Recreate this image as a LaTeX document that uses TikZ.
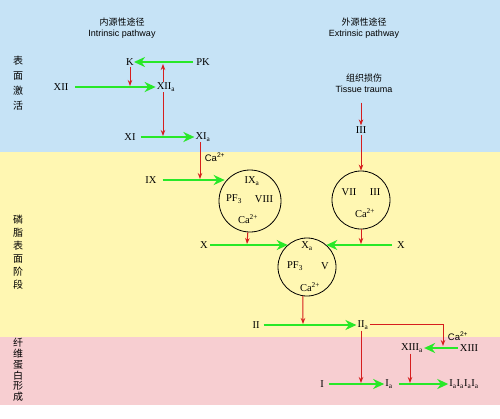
\documentclass[tikz,border=0pt]{standalone}
\usepackage{fontspec}
\setmainfont{Liberation Serif}
\setsansfont{Liberation Sans}
\newfontfamily\cjk{Noto Sans CJK SC}
\usetikzlibrary{arrows.meta}
\definecolor{bgblue}{RGB}{198,227,246}
\definecolor{bgyellow}{RGB}{255,247,178}
\definecolor{bgpink}{RGB}{247,206,209}
\definecolor{agreen}{RGB}{40,232,40}
\definecolor{ared}{RGB}{214,30,30}
\newcommand{\sa}{\textsubscript{a}}
\newcommand{\caion}{Ca\textsuperscript{2+}}
\begin{document}
\begin{tikzpicture}[x=1pt,y=-1pt,
 lab/.style={font=\fontsize{10.5}{12}\selectfont, inner sep=1pt},
 ga/.style={agreen, line width=2.5pt, -{Stealth[length=11pt,width=10pt,inset=3.5pt]}},
 ra/.style={ared, line width=1pt, -{Stealth[length=6pt,width=4.5pt]}},
 circ/.style={circle, draw, line width=0.8pt, inner sep=0pt},
 head/.style={font=\fontsize{9}{11}\selectfont\sffamily, align=center, inner sep=1pt},
 side/.style={font=\cjk\fontsize{10}{15}\selectfont, align=center, inner sep=0pt},
 ion/.style={font=\fontsize{9.5}{11}\selectfont\sffamily, inner sep=1pt},
 ]
\fill[white] (0,0) rectangle (500,418);
\fill[bgblue] (0,0) rectangle (500,152);
\fill[bgyellow] (0,152) rectangle (500,337);
\fill[bgpink] (0,337) rectangle (500,405);
\useasboundingbox (0,0) rectangle (500,418);

% headers
\node[head] (h1) at (122,28) {{\cjk 内源性途径}\\Intrinsic pathway};
\node[head] (h2) at (364,28) {{\cjk 外源性途径}\\Extrinsic pathway};
\node[head] (TT) at (364,83) {{\cjk 组织损伤}\\Tissue trauma};

% side labels
\node[side] (s1) at (18,83) {表\\面\\激\\活};
\node[side, font=\cjk\fontsize{10}{13}\selectfont] (s2) at (18,252) {磷\\脂\\表\\面\\阶\\段};
\node[side, font=\cjk\fontsize{10}{10.8}\selectfont] (s3) at (18,370) {纤\\维\\蛋\\白\\形\\成};

% surface activation
\node[lab] (K) at (130,62) {K};
\node[lab] (PK) at (203,62) {PK};
\node[lab] (XII) at (61,87) {XII};
\node[lab] (XIIa) at (166,87) {XII\sa};
\node[lab] (XI) at (130,137) {XI};
\node[lab] (XIa) at (203,137) {XI\sa};
\node[ion] (ca1) at (215,157) {\caion};
\node[lab] (III) at (361,130) {III};

% phospholipid stage
\node[lab] (IX) at (151,180) {IX};
\node[circ, minimum size=62pt] (C1) at (250,201) {};
\node[lab] (IXa) at (252,181) {IX\sa};
\node[lab] (PF1) at (234,199) {PF\textsubscript{3}};
\node[lab] (VIII) at (264,199) {VIII};
\node[lab] (ca2) at (248,219) {\caion};

\node[circ, minimum size=58pt] (C2) at (361,200) {};
\node[lab] (VII) at (349,192) {VII};
\node[lab] (III2) at (375,192) {III};
\node[lab] (ca3) at (365,213) {\caion};

\node[lab] (Xl) at (204,245) {X};
\node[lab] (Xr) at (401,245) {X};
\node[circ, minimum size=58pt] (C3) at (307,267) {};
\node[lab] (Xa) at (307,246) {X\sa};
\node[lab] (PF2) at (295,266) {PF\textsubscript{3}};
\node[lab] (V) at (325,266) {V};
\node[lab] (ca4) at (310,287) {\caion};

\node[lab] (II) at (256,325) {II};
\node[lab] (IIa) at (363,325) {II\sa};

% fibrin formation
\node[ion] (ca5) at (458,336) {\caion};
\node[lab] (XIIIa) at (412,348) {XIII\sa};
\node[lab] (XIII) at (469,348) {XIII};
\node[lab] (I) at (322,384) {I};
\node[lab] (Ia) at (389,384) {I\sa};
\node[lab] (Ifin) at (464,384) {I\sa I\sa I\sa I\sa};

% coordinates on lines
\coordinate (r1) at (130,86);
\coordinate (r2) at (163,64);
\coordinate (r3) at (163,136);
\coordinate (r4) at (200,179);
\coordinate (r5) at (361,244);
\coordinate (r6) at (247,244);
\coordinate (r7) at (303,324);
\coordinate (r8) at (443,346);
\coordinate (r9) at (361,383);
\coordinate (r10) at (410,383);

% green arrows
\draw[ga] ([xshift=-2pt]PK.west) -- ([xshift=-1pt]K.east);
\draw[ga] ([xshift=6pt]XII.east) -- (XIIa.west);
\draw[ga] ([xshift=4pt]XI.east) -- (XIa.west);
\draw[ga] ([xshift=5pt]IX.east) -- ([xshift=-2pt]IX.east -| C1.138);
\draw[ga] ([xshift=1pt]Xl.east) -- (Xl.east -| C3.131);
\draw[ga] ([xshift=-4pt]Xr.west) -- (Xr.west -| C3.49);
\draw[ga] ([xshift=3pt]II.east) -- (IIa.west);
\draw[ga] ([xshift=-1pt]XIII.west) -- (XIII.west -| XIIIa.east);
\draw[ga] ([xshift=4pt]I.east) -- (Ia.west);
\draw[ga] ([xshift=5pt]Ia.east) -- (Ia.east -| Ifin.west);

% red arrows
\draw[ra] (K.south) -- (r1);
\draw[ra] (r2 |- XIIa.north) -- (r2);
\draw[ra] (r3 |- XIIa.south) -- (r3);
\draw[ra] (r4 |- XIa.south) -- (r4);
\draw[ra] ([yshift=-9pt]III |- TT.south) -- (III.north);
\draw[ra] (III.south) -- (C2.north);
\draw[ra] (C2.south) -- (r5);
\draw[ra] (C1.266) -- (r6);
\draw[ra] (C3.262) -- (r7);
\draw[ra] ([yshift=1pt]IIa.east) -| (r8);
\draw[ra] (r9 |- IIa.south) -- (r9);
\draw[ra] (r10 |- XIIIa.south) -- (r10);
\end{tikzpicture}
\end{document}
